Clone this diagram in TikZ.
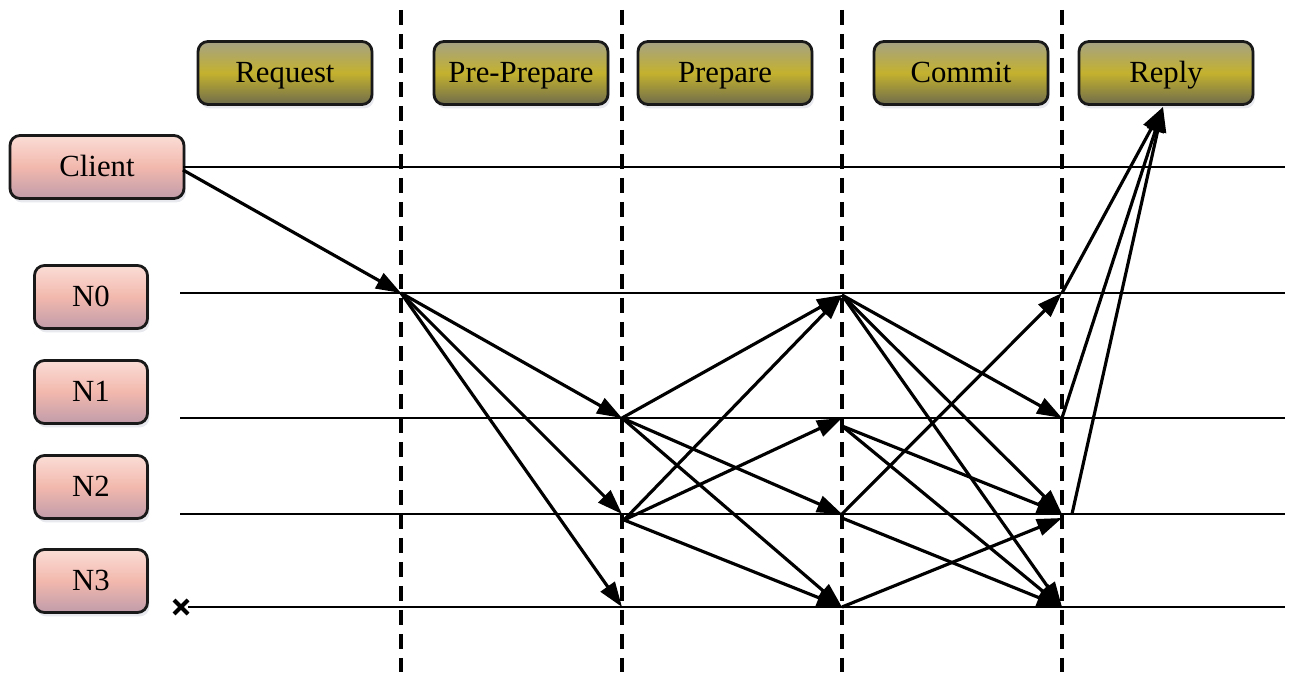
\documentclass[tikz,border=0pt]{standalone}
\usepackage{fontspec}
\setmainfont{Liberation Serif}
\usetikzlibrary{arrows.meta,shadows}

\definecolor{phaseEdge}{HTML}{6F6C4C}
\definecolor{phaseTop}{HTML}{A5A184}
\definecolor{phaseMid}{HTML}{C4B22E}
\definecolor{roleTop}{HTML}{FADDD6}
\definecolor{roleMid}{HTML}{F2B8AD}
\definecolor{roleBot}{HTML}{C09CAA}
\definecolor{shadowBlue}{HTML}{9FA8C0}

\tikzset{
  boxbase/.style={draw=black!90, line width=1.6pt, rounded corners=0.2cm,
    minimum height=1.26cm, inner sep=0pt, text height=13.5pt, text depth=2.5pt,
    drop shadow={opacity=0.25, shadow xshift=0.04cm, shadow yshift=-0.08cm, fill=shadowBlue},
    font=\fontsize{17.5}{20}\selectfont},
  phasebox/.style={boxbase, minimum width=3.48cm,
    top color=phaseTop, bottom color=phaseEdge, middle color=phaseMid},
  rolebox/.style={boxbase, minimum width=2.26cm,
    top color=roleTop, bottom color=roleBot, middle color=roleMid},
  lifeline/.style={line width=1.7pt},
  phaseline/.style={line width=1.8pt, dash pattern=on 0.3cm off 0.18cm},
  msg/.style={line width=1.8pt, -{Triangle[length=0.5cm,width=0.34cm]}},
  cross/.style={line width=2.4pt},
}

\begin{document}
\begin{tikzpicture}[x=0.02cm, y=-0.02cm]
  \useasboundingbox (0,0) rectangle (1295,675);

  % phase separators
  \foreach \px/\nm in {401/A, 622/B, 842/C, 1062/D} {
    \coordinate (top\nm) at (\px,10);
    \coordinate (bot\nm) at (\px,672);
    \draw[phaseline] (top\nm) -- (bot\nm);
  }

  % phase labels
  \node[phasebox] (request) at (285,73) {Request};
  \node[phasebox] (preprepare) at (521,73) {Pre-Prepare};
  \node[phasebox] (prepare) at (725,73) {Prepare};
  \node[phasebox] (commit) at (961,73) {Commit};
  \node[phasebox] (reply) at (1166,73) {Reply};

  % participants
  \node[rolebox, minimum width=3.48cm] (client) at (97,167) {Client};
  \node[rolebox] (n0) at (91,297) {N0};
  \node[rolebox] (n1) at (91,392) {N1};
  \node[rolebox] (n2) at (91,487) {N2};
  \node[rolebox] (n3) at (91,581) {N3};

  % lifelines
  \coordinate (cS) at (183,167);   \coordinate (cE) at (1285,167);
  \coordinate (l0S) at (180,293);  \coordinate (l0E) at (1285,293);
  \coordinate (l1S) at (180,418);  \coordinate (l1E) at (1285,418);
  \coordinate (l2S) at (180,514);  \coordinate (l2E) at (1285,514);
  \coordinate (l3S) at (188,607);  \coordinate (l3E) at (1285,607);
  \draw[lifeline] (cS) -- (cE);
  \draw[lifeline] (l0S) -- (l0E);
  \draw[lifeline] (l1S) -- (l1E);
  \draw[lifeline] (l2S) -- (l2E);
  \draw[lifeline] (l3S) -- (l3E);

  % faulty replica marker
  \coordinate (x1) at (174,600); \coordinate (x2) at (188,614);
  \coordinate (x3) at (174,614); \coordinate (x4) at (188,600);
  \draw[cross] (x1) -- (x2);
  \draw[cross] (x3) -- (x4);

  % event points
  \coordinate (req) at (183,170);
  \coordinate (a0) at (401,293);
  \coordinate (b1) at (622,418);
  \coordinate (b2) at (622,514);
  \coordinate (b2o) at (624,520);
  \coordinate (b3) at (622,607);
  \coordinate (c0) at (842,295);
  \coordinate (c1) at (842,418);
  \coordinate (c1o) at (842,426);
  \coordinate (c2) at (842,514);
  \coordinate (c2o) at (842,518);
  \coordinate (c3) at (842,607);
  \coordinate (d0) at (1062,293);
  \coordinate (d1) at (1062,418);
  \coordinate (d2) at (1062,514);
  \coordinate (d2i) at (1062,518);
  \coordinate (d2o) at (1072,514);
  \coordinate (d3) at (1062,607);
  \coordinate (rtip) at (1163,107);

  % request
  \draw[msg] (req) -- (a0);
  % pre-prepare
  \draw[msg] (a0) -- (b1);
  \draw[msg] (a0) -- (b2);
  \draw[msg] (a0) -- (b3);
  % prepare
  \draw[msg] (b1) -- (c0);
  \draw[msg] (b1) -- (c2);
  \draw[msg] (b1) -- (c3);
  \draw[msg] (b2o) -- (c0);
  \draw[msg] (b2o) -- (c1);
  \draw[msg] (b2o) -- (c3);
  % commit
  \draw[msg] (c0) -- (d1);
  \draw[msg] (c0) -- (d2);
  \draw[msg] (c0) -- (d3);
  \draw[msg] (c1o) -- (d2);
  \draw[msg] (c1o) -- (d3);
  \draw[msg] (c2) -- (d0);
  \draw[msg] (c2o) -- (d3);
  \draw[msg] (c3) -- (d2i);
  % reply
  \draw[msg] (d0) -- (rtip);
  \draw[msg] (d1) -- (rtip);
  \draw[msg] (d2o) -- (rtip);
\end{tikzpicture}
\end{document}
